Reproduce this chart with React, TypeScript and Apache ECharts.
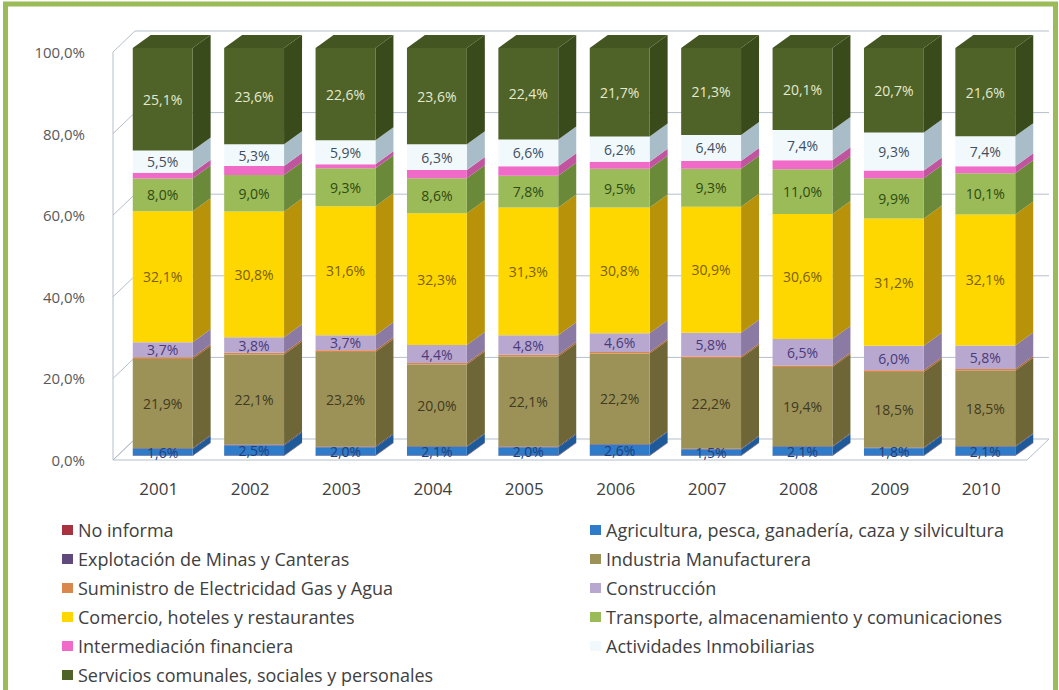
import React, { useEffect, useRef } from "react";
import * as echarts from "echarts";

const years = ["2001", "2002", "2003", "2004", "2005", "2006", "2007", "2008", "2009", "2010"];
const yTicks = [0, 20, 40, 60, 80, 100];

const noInforma = [0.1, 0.1, 0.1, 0.1, 0.1, 0.1, 0.1, 0.1, 0.1, 0.1];
const agricultura = [1.6, 2.5, 2.0, 2.1, 2.0, 2.6, 1.5, 2.1, 1.8, 2.1];
const minas = [0.2, 0.2, 0.2, 0.2, 0.2, 0.2, 0.2, 0.2, 0.2, 0.2];
const industria = [21.9, 22.1, 23.2, 20.0, 22.1, 22.2, 22.2, 19.4, 18.5, 18.5];
const electricidad = [0.4, 0.4, 0.4, 0.4, 0.4, 0.4, 0.4, 0.4, 0.4, 0.4];
const construccion = [3.7, 3.8, 3.7, 4.4, 4.8, 4.6, 5.8, 6.5, 6.0, 5.8];
const comercio = [32.1, 30.8, 31.6, 32.3, 31.3, 30.8, 30.9, 30.6, 31.2, 32.1];
const transporte = [8.0, 9.0, 9.3, 8.6, 7.8, 9.5, 9.3, 11.0, 9.9, 10.1];
const intermediacion = [1.4, 2.2, 1.0, 2.0, 2.3, 1.7, 1.9, 2.2, 1.9, 1.7];
const inmobiliarias = [5.5, 5.3, 5.9, 6.3, 6.6, 6.2, 6.4, 7.4, 9.3, 7.4];
const servicios = [25.1, 23.6, 22.6, 23.6, 22.4, 21.7, 21.3, 20.1, 20.7, 21.6];

type Sector = {
  name: string;
  values: number[];
  front: string;
  side: string;
  top: string;
  label: string | null;
};

const sectors: Sector[] = [
  { name: "No informa", values: noInforma, front: "#A8323E", side: "#7A2430", top: "#B8434E", label: null },
  { name: "Agricultura, pesca, ganadería, caza y silvicultura", values: agricultura, front: "#2E7BC9", side: "#1E5A9A", top: "#3A8AD8", label: "#1F3F7A" },
  { name: "Explotación de Minas y Canteras", values: minas, front: "#604A7B", side: "#47375B", top: "#6E5A8A", label: null },
  { name: "Industria Manufacturera", values: industria, front: "#9C9258", side: "#6E6636", top: "#ABA168", label: "#3F3A20" },
  { name: "Suministro de Electricidad Gas y Agua", values: electricidad, front: "#D9874A", side: "#A86430", top: "#E09A60", label: null },
  { name: "Construcción", values: construccion, front: "#B8A8D0", side: "#8A7AA4", top: "#C4B6DA", label: "#4A3A7A" },
  { name: "Comercio, hoteles y restaurantes", values: comercio, front: "#FFD700", side: "#B8930A", top: "#FFE040", label: "#7A6000" },
  { name: "Transporte, almacenamiento y comunicaciones", values: transporte, front: "#9BBB59", side: "#6A8A3A", top: "#A8C66A", label: "#2F4A10" },
  { name: "Intermediación financiera", values: intermediacion, front: "#F06AC8", side: "#C0549E", top: "#F585D2", label: null },
  { name: "Actividades Inmobiliarias", values: inmobiliarias, front: "#F2F9FD", side: "#A9BDC9", top: "#FFFFFF", label: "#3E4E60" },
  { name: "Servicios comunales, sociales y personales", values: servicios, front: "#4F6228", side: "#394A1B", top: "#435520", label: "#E4EAD0" },
];

const leftLegend = [0, 2, 4, 6, 8, 10].map((k) => sectors[k].name);
const rightLegend = [1, 3, 5, 7, 9].map((k) => sectors[k].name);

const OX = 4;
const OY = -4;
const DX = 18;
const DY = 13;
const WX = 22;
const WY = -21;
const FONT = "Open Sans";

function fmt(v: number) {
  return v.toFixed(1).replace(".", ",") + "%";
}

export default function App() {
  const ref = useRef<HTMLDivElement>(null);
  useEffect(() => {
    if (!ref.current) return;
    const chart = echarts.init(ref.current, undefined, { renderer: "svg" });

    const totals = years.map((_, i) => sectors.reduce((s, sec) => s + sec.values[i], 0));
    const cum = years.map(() => 0);

    const barSeries = sectors.map((sec, k) => {
      const data = years.map((_, i) => {
        const base = (cum[i] / totals[i]) * 100;
        cum[i] += sec.values[i];
        const top = (cum[i] / totals[i]) * 100;
        return [i, base, top, sec.values[i]];
      });
      const isTop = k === sectors.length - 1;
      return {
        name: sec.name,
        type: "custom",
        itemStyle: { color: sec.front },
        z: 5,
        encode: { x: 0, y: [1, 2] },
        data,
        renderItem: (params: any, api: any) => {
          const i = api.value(0);
          const b = api.value(1);
          const t = api.value(2);
          const v = api.value(3);
          const p0 = api.coord([i, b]);
          const p1 = api.coord([i, t]);
          const band = api.size([1, 0])[0];
          const w = band * 0.655;
          const x0 = p0[0] - w / 2 + OX;
          const yb = p0[1] + OY;
          const yt = p1[1] + OY;
          const children: any[] = [
            {
              type: "polygon",
              shape: {
                points: [
                  [x0 + w, yb],
                  [x0 + w + DX, yb - DY],
                  [x0 + w + DX, yt - DY],
                  [x0 + w, yt],
                ],
              },
              style: { fill: sec.side },
            },
            {
              type: "rect",
              shape: { x: x0, y: yt, width: w, height: yb - yt },
              style: { fill: sec.front },
            },
          ];
          if (isTop) {
            children.push({
              type: "polygon",
              shape: {
                points: [
                  [x0, yt],
                  [x0 + DX, yt - DY],
                  [x0 + w + DX, yt - DY],
                  [x0 + w, yt],
                ],
              },
              style: { fill: sec.top },
            });
          }
          if (sec.label) {
            children.push({
              type: "text",
              style: {
                text: fmt(v),
                x: x0 + w / 2,
                y: (yb + yt) / 2,
                align: "center",
                verticalAlign: "middle",
                fill: sec.label,
                fontSize: 14,
                fontFamily: FONT,
              },
              z2: 10,
            });
          }
          return { type: "group", children };
        },
      };
    });

    const wallSeries = {
      name: "walls",
      type: "custom",
      z: 1,
      silent: true,
      encode: { x: 0, y: 1 },
      data: [[0, 0]],
      renderItem: (params: any, api: any) => {
        const cs = params.coordSys;
        const left = cs.x;
        const right = cs.x + cs.width;
        const stroke = "#B4BFCB";
        const children: any[] = [];
        const y0 = api.coord([0, 0])[1];
        const y100 = api.coord([0, 100])[1];
        children.push({
          type: "polygon",
          shape: {
            points: [
              [left, y0],
              [right, y0],
              [right + WX, y0 + WY],
              [left + WX, y0 + WY],
            ],
          },
          style: { fill: "#FFFFFF", stroke, lineWidth: 1 },
        });
        children.push({
          type: "line",
          shape: { x1: left, y1: y0, x2: left, y2: y100 },
          style: { stroke, lineWidth: 1 },
        });
        yTicks.forEach((tv) => {
          const y = api.coord([0, tv])[1];
          children.push({
            type: "line",
            shape: { x1: left, y1: y, x2: left + WX, y2: y + WY },
            style: { stroke, lineWidth: 1 },
          });
          if (tv > 0) {
            children.push({
              type: "line",
              shape: { x1: left + WX, y1: y + WY, x2: right + WX, y2: y + WY },
              style: { stroke, lineWidth: 1 },
            });
          }
        });
        return { type: "group", children };
      },
    };

    const legendCommon = {
      orient: "vertical",
      top: 515,
      height: 200,
      itemGap: 9,
      itemWidth: 11,
      itemHeight: 10,
      icon: "rect",
      selectedMode: false,
      textStyle: { fontSize: 18, color: "#404040", fontFamily: FONT, lineHeight: 20 },
    };

    chart.setOption({
      animation: false,
      backgroundColor: "#FFFFFF",
      grid: { left: 113, right: 32, top: 52, bottom: 230 },
      xAxis: {
        type: "category",
        data: years,
        axisLine: { show: false },
        axisTick: { show: false },
        axisLabel: { fontSize: 17, color: "#404040", fontFamily: FONT, margin: 20 },
      },
      yAxis: {
        type: "value",
        min: 0,
        max: 100,
        interval: 20,
        axisLine: { show: false },
        axisTick: { show: false },
        splitLine: { show: false },
        axisLabel: {
          formatter: (v: number) => fmt(v),
          fontSize: 15,
          color: "#595959",
          fontFamily: FONT,
          margin: 28,
        },
      },
      legend: [
        { ...legendCommon, left: 57, data: leftLegend },
        { ...legendCommon, left: 585, data: rightLegend },
      ],
      graphic: [
        {
          type: "rect",
          shape: { x: 5.5, y: 4, width: 1050, height: 700 },
          style: { fill: "none", stroke: "#9BBB59", lineWidth: 5 },
          silent: true,
          z: 100,
        },
      ],
      series: [wallSeries, ...barSeries],
    });

    return () => chart.dispose();
  }, []);

  return (
    <div
      ref={ref}
      style={{ position: "absolute", left: 0, top: 0, width: 1059, height: 690 }}
    />
  );
}
